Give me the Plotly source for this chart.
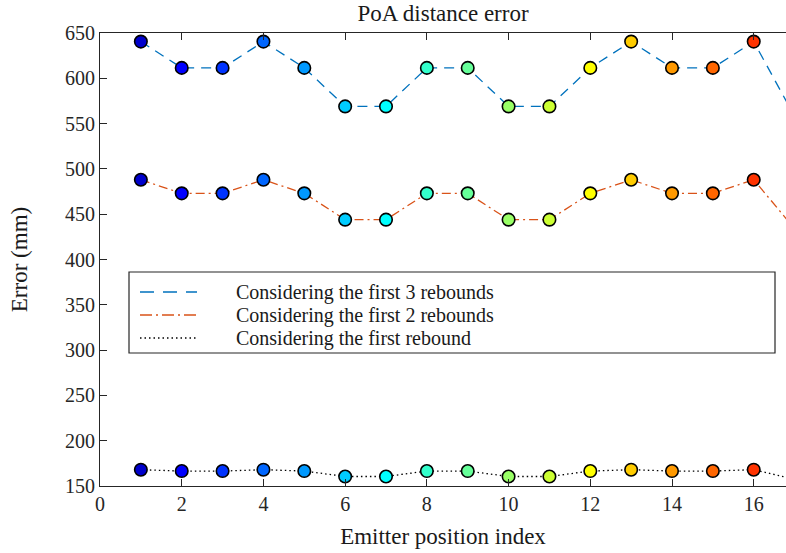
import plotly.graph_objects as go

# Emitter positions and the PoA distance error (mm) for each rebound setting
emitter_index = list(range(1, 18))
err_three_rebounds = [640.5, 611.5, 611.5, 640.5, 611.5, 569, 569, 611.5, 611.5, 569, 569,
                      611.5, 640.5, 611.5, 611.5, 640.5, 558]
err_two_rebounds = [488, 473, 473, 488, 473, 444, 444, 473, 473, 444, 444,
                    473, 488, 473, 473, 488, 434]
err_first_rebound = [168, 166.5, 166.5, 168, 166.5, 160.5, 160.5, 166.5, 166.5, 160.5, 160.5,
                     166.5, 168, 166.5, 166.5, 168, 157.5]

x_ticks = list(range(0, 17, 2))
y_ticks = list(range(150, 651, 50))

series_labels = ["Considering the first 3 rebounds",
                 "Considering the first 2 rebounds",
                 "Considering the first rebound"]
line_colors = ["#0072BD", "#D95319", "#000000"]
line_dashes = ["10px,7px", "9px,4px,2px,4px", "1.5px,3px"]


def jet(m):
    """MATLAB-style jet colormap with m entries, returned as hex strings."""
    n = -(-m // 4)
    u = [i / n for i in range(1, n + 1)] + [1.0] * (n - 1) + [i / n for i in range(n, 0, -1)]
    g0 = -(-n // 2) - (1 if m % 4 == 1 else 0)
    rgb = [[0.0, 0.0, 0.0] for _ in range(m)]
    for k, val in enumerate(u):
        g = g0 + k + 1
        for ch, idx in ((0, g + n), (1, g), (2, g - n)):
            if 1 <= idx <= m:
                rgb[idx - 1][ch] = val
    return ["#%02x%02x%02x" % tuple(round(c * 255) for c in row) for row in rgb]


marker_colors = jet(len(emitter_index))
axis_color = "#262626"
tick_font = dict(family="Liberation Serif", size=20, color=axis_color)
text_font = dict(family="Liberation Serif", size=23, color="#1a1a1a")
legend_font = dict(family="Liberation Serif", size=20, color="#1a1a1a")

fig = go.Figure()
for values, color, dash in zip([err_three_rebounds, err_two_rebounds, err_first_rebound],
                               line_colors, line_dashes):
    fig.add_trace(go.Scatter(
        x=emitter_index, y=values, mode="lines+markers",
        line=dict(color=color, width=1.3, dash=dash),
        marker=dict(size=12.5, color=marker_colors, line=dict(color="#000000", width=1.6)),
        showlegend=False, cliponaxis=True,
    ))

# Legend drawn as a boxed panel inside the axes
W, H = 786, 553
L, R, T, B = 100, 0, 33, 67
pw, ph = W - L - R, H - T - B


def px(xp):
    return (xp - L) / pw


def py(yp):
    return (H - B - yp) / ph


shapes = [dict(type="rect", xref="paper", yref="paper",
               x0=px(129), x1=px(775), y0=py(353), y1=py(272),
               line=dict(color=axis_color, width=1.2), fillcolor="white", layer="above")]
annotations = []
legend_dashes = ["14px,9px", "12px,4px,2px,4px", "1.5px,3px"]
for i, (label, color, dash) in enumerate(zip(series_labels, line_colors, legend_dashes)):
    yrow = 292 + i * 23
    shapes.append(dict(type="line", xref="paper", yref="paper",
                       x0=px(140), x1=px(197), y0=py(yrow), y1=py(yrow),
                       line=dict(color=color, width=1.5, dash=dash), layer="above"))
    annotations.append(dict(xref="paper", yref="paper", x=px(234), y=py(yrow),
                            xanchor="left", yanchor="middle", text=label,
                            showarrow=False, font=legend_font))

fig.update_layout(
    width=W, height=H,
    margin=dict(l=L, r=R, t=T, b=B),
    paper_bgcolor="white", plot_bgcolor="white",
    font=tick_font,
    title=dict(text="PoA distance error", x=0.5, xref="paper", xanchor="center",
               y=1 - 13 / H, yref="container", yanchor="middle", font=text_font),
    xaxis=dict(range=[0, 16.79], tickvals=x_ticks, ticks="inside", ticklen=7,
               tickwidth=1, tickcolor=axis_color, showline=True, linecolor=axis_color,
               linewidth=1.2, mirror="ticks", showgrid=False, zeroline=False,
               title=dict(text="Emitter position index", standoff=13, font=text_font),
               tickfont=tick_font),
    yaxis=dict(range=[150, 650], tickvals=y_ticks, ticks="inside", ticklen=7,
               tickwidth=1, tickcolor=axis_color, showline=True, linecolor=axis_color,
               linewidth=1.2, mirror=False, showgrid=False, zeroline=False,
               title=dict(text="Error (mm)", standoff=30, font=text_font),
               tickfont=tick_font),
    shapes=shapes, annotations=annotations,
)

fig.write_html("out.html")
